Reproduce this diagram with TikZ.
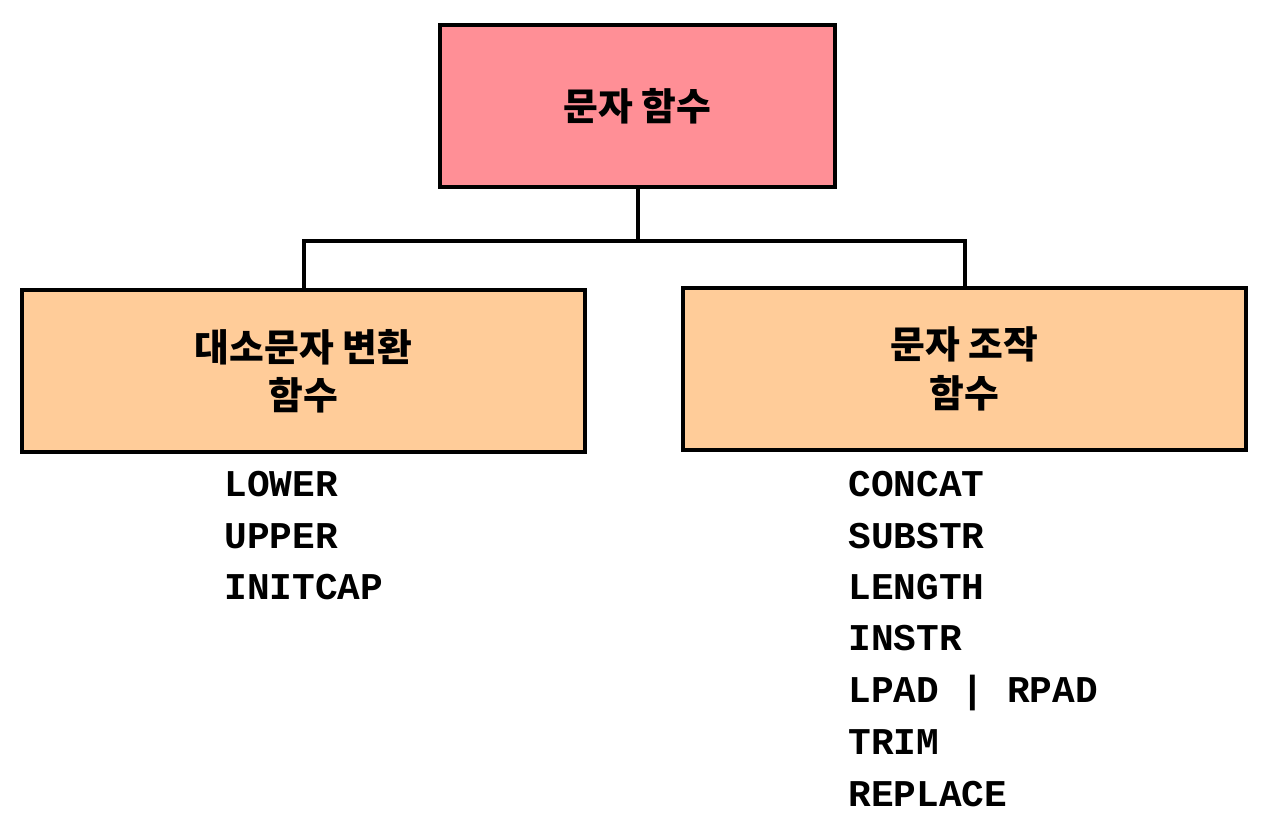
\documentclass[tikz,border=0pt]{standalone}
\usepackage{fontspec}
\newfontfamily\kofont{Noto Sans CJK KR}
\newfontfamily\codefont{Liberation Mono}
\definecolor{toppink}{HTML}{FF8F96}
\definecolor{subpeach}{HTML}{FFCC99}

\begin{document}
\begin{tikzpicture}[
  groupbox/.style={draw=black, line width=.08cm, minimum height=3.24cm, align=center, font=\kofont\bfseries\fontsize{21.5}{27.5}\selectfont},
  fname/.style={anchor=base west, inner sep=0pt, font=\codefont\bfseries\fontsize{21.5}{24}\selectfont},
  link/.style={line width=.08cm}
]
\useasboundingbox (0,0) rectangle (25.28,16.32);
\node[groupbox, fill=toppink, minimum width=7.9cm] (top) at (12.75,14.2) {문자 함수};
\node[groupbox, fill=subpeach, minimum width=11.26cm] (case) at (6.07,8.9) {대소문자 변환\\함수};
\node[groupbox, fill=subpeach, minimum width=11.26cm] (manip) at (19.29,8.94) {문자 조작\\함수};
\coordinate (bus) at (12.75,11.5);
\draw[link] (top.south) -- (bus);
\draw[link] (case.north) |- (bus) -| (manip.north);
\node[fname] (lower) at (4.48,6.38) {LOWER};
\node[fname] (upper) at (4.48,5.35) {UPPER};
\node[fname] (initcap) at (4.48,4.32) {INITCAP};
\node[fname] (concat) at (16.96,6.38) {CONCAT};
\node[fname] (substr) at (16.96,5.35) {SUBSTR};
\node[fname] (length) at (16.96,4.32) {LENGTH};
\node[fname] (instr) at (16.96,3.30) {INSTR};
\node[fname] (pad) at (16.96,2.26) {LPAD | RPAD};
\node[fname] (trim) at (16.96,1.22) {TRIM};
\node[fname] (replace) at (16.96,0.18) {REPLACE};
\end{tikzpicture}
\end{document}
